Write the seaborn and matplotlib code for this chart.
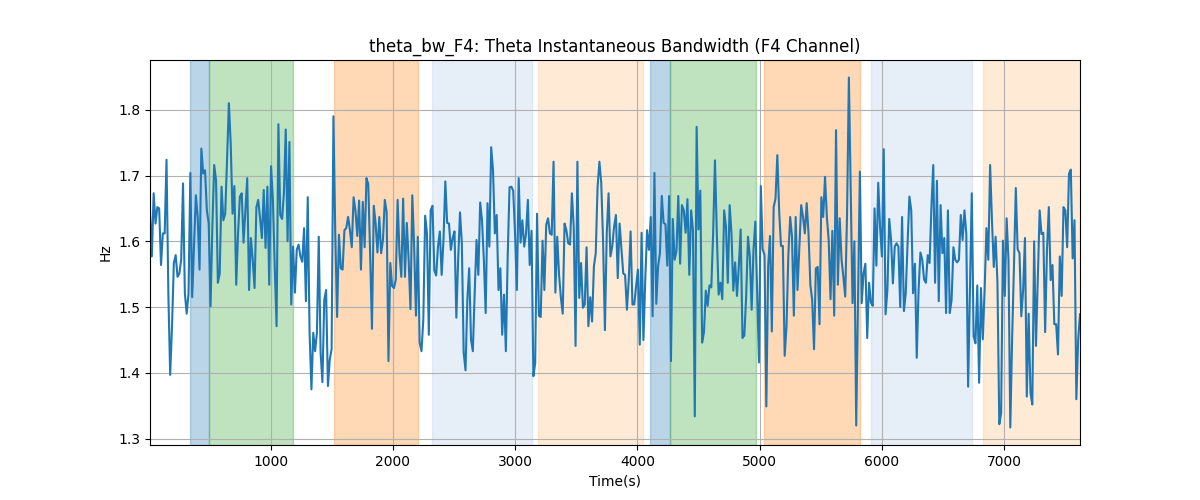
import numpy as np
import pandas as pd
import matplotlib
matplotlib.use("Agg")
import matplotlib.pyplot as plt
import seaborn as sns

t_start, t_end = 12, 7622

bandwidth_hz = [
    # 0 - ~950 s
    1.647, 1.577, 1.673, 1.627, 1.652, 1.650, 1.564, 1.612, 1.612, 1.724,
    1.521, 1.397, 1.471, 1.567, 1.579, 1.546, 1.551, 1.572, 1.688, 1.521,
    1.490, 1.521, 1.704, 1.515, 1.592, 1.670, 1.637, 1.557, 1.741, 1.703,
    1.708, 1.647, 1.627, 1.501, 1.622, 1.716, 1.693, 1.537, 1.551, 1.683,
    1.632, 1.642, 1.723, 1.810, 1.748, 1.642, 1.684, 1.534, 1.612, 1.668,
    1.673, 1.598, 1.647, 1.696, 1.526, 1.605, 1.572, 1.529, 1.652, 1.663,
    1.635, 1.605, 1.678, 1.590,
    # ~950 - ~1900 s
    1.683, 1.534, 1.714, 1.663, 1.562, 1.471, 1.778, 1.640, 1.634, 1.673,
    1.770, 1.600, 1.751, 1.504, 1.592, 1.522, 1.587, 1.595, 1.577, 1.569,
    1.620, 1.509, 1.667, 1.461, 1.375, 1.461, 1.433, 1.461, 1.607, 1.431,
    1.386, 1.511, 1.526, 1.380, 1.420, 1.436, 1.790, 1.612, 1.485, 1.610,
    1.559, 1.557, 1.617, 1.620, 1.637, 1.617, 1.591, 1.667, 1.647, 1.608,
    1.662, 1.557, 1.660, 1.591, 1.696, 1.687, 1.582, 1.467, 1.654, 1.627,
    1.583, 1.637, 1.582,
    # ~1900 - ~2850 s
    1.602, 1.663, 1.645, 1.418, 1.567, 1.532, 1.529, 1.542, 1.663, 1.582,
    1.546, 1.665, 1.546, 1.628, 1.572, 1.497, 1.670, 1.592, 1.487, 1.607,
    1.446, 1.433, 1.481, 1.639, 1.612, 1.458, 1.647, 1.654, 1.556, 1.548,
    1.592, 1.615, 1.549, 1.602, 1.691, 1.628, 1.627, 1.587, 1.605, 1.615,
    1.484, 1.572, 1.644, 1.597, 1.431, 1.404, 1.511, 1.559, 1.451, 1.433,
    1.521, 1.602, 1.549, 1.659, 1.632, 1.572, 1.491, 1.658, 1.592, 1.743,
    1.708, 1.612, 1.640, 1.526,
    # ~2850 - ~3800 s
    1.559, 1.458, 1.519, 1.433, 1.577, 1.682, 1.683, 1.677, 1.612, 1.526,
    1.696, 1.598, 1.632, 1.592, 1.612, 1.663, 1.564, 1.616, 1.395, 1.415,
    1.642, 1.487, 1.485, 1.601, 1.526, 1.625, 1.635, 1.612, 1.610, 1.721,
    1.522, 1.607, 1.549, 1.514, 1.490, 1.627, 1.617, 1.597, 1.595, 1.673,
    1.622, 1.441, 1.721, 1.514, 1.567, 1.499, 1.504, 1.591, 1.471, 1.515,
    1.478, 1.562, 1.582, 1.683, 1.721, 1.689, 1.600, 1.465, 1.612, 1.673,
    1.577, 1.592, 1.622,
    # ~3800 - ~4750 s
    1.640, 1.544, 1.627, 1.590, 1.551, 1.549, 1.496, 1.542, 1.615, 1.504,
    1.504, 1.532, 1.557, 1.443, 1.613, 1.450, 1.542, 1.617, 1.587, 1.637,
    1.486, 1.704, 1.505, 1.562, 1.582, 1.669, 1.628, 1.626, 1.563, 1.669,
    1.418, 1.634, 1.572, 1.585, 1.669, 1.566, 1.655, 1.647, 1.613, 1.664,
    1.549, 1.647, 1.617, 1.334, 1.774, 1.618, 1.677, 1.446, 1.462, 1.525,
    1.502, 1.533, 1.530, 1.612, 1.723, 1.612, 1.519, 1.537, 1.512, 1.647,
    1.622, 1.537, 1.655,
    # ~4750 - ~5700 s
    1.612, 1.525, 1.568, 1.517, 1.562, 1.618, 1.453, 1.457, 1.516, 1.607,
    1.577, 1.496, 1.587, 1.630, 1.526, 1.416, 1.684, 1.588, 1.579, 1.349,
    1.562, 1.608, 1.463, 1.652, 1.665, 1.731, 1.645, 1.593, 1.593, 1.426,
    1.471, 1.579, 1.637, 1.607, 1.487, 1.637, 1.526, 1.592, 1.655, 1.637,
    1.612, 1.658, 1.612, 1.534, 1.511, 1.436, 1.559, 1.561, 1.474, 1.667,
    1.637, 1.698, 1.637, 1.602, 1.512, 1.616, 1.487, 1.769, 1.534, 1.635,
    1.572, 1.546, 1.516,
    # ~5700 - ~6650 s
    1.640, 1.849, 1.673, 1.506, 1.600, 1.320, 1.516, 1.706, 1.506, 1.551,
    1.566, 1.453, 1.537, 1.507, 1.502, 1.650, 1.563, 1.689, 1.622, 1.577,
    1.740, 1.489, 1.526, 1.634, 1.602, 1.536, 1.592, 1.597, 1.592, 1.500,
    1.637, 1.494, 1.521, 1.597, 1.668, 1.647, 1.521, 1.566, 1.423, 1.526,
    1.583, 1.572, 1.542, 1.537, 1.579, 1.567, 1.652, 1.716, 1.537, 1.692,
    1.509, 1.655, 1.582, 1.605, 1.491, 1.647, 1.491, 1.511, 1.591, 1.572,
    1.568, 1.572, 1.640,
    # ~6650 - end
    1.602, 1.647, 1.612, 1.379, 1.524, 1.673, 1.456, 1.445, 1.533, 1.385,
    1.529, 1.451, 1.526, 1.620, 1.572, 1.716, 1.632, 1.561, 1.607, 1.537,
    1.322, 1.339, 1.601, 1.517, 1.635, 1.572, 1.317, 1.453, 1.562, 1.681,
    1.588, 1.582, 1.486, 1.526, 1.605, 1.364, 1.490, 1.370, 1.352, 1.600,
    1.441, 1.546, 1.647, 1.611, 1.613, 1.462, 1.587, 1.652, 1.541, 1.564,
    1.474, 1.474, 1.428, 1.577, 1.517, 1.652, 1.647, 1.591, 1.703, 1.709,
    1.574, 1.632, 1.360, 1.450, 1.489,
]

span_starts = [337, 493, 1516, 2318, 3186, 4103, 4267, 5036, 5912, 6829]
span_ends = [493, 1181, 2204, 3137, 4046, 4267, 4971, 5822, 6739, 7640]
span_colors = ["tab:blue", "tab:green", "tab:orange", "#aec7e8", "#ffbb78",
               "tab:blue", "tab:green", "tab:orange", "#aec7e8", "#ffbb78"]

time_s = np.linspace(t_start, t_end, len(bandwidth_hz))
df = pd.DataFrame({"Time(s)": time_s, "Hz": bandwidth_hz})

fig, ax = plt.subplots(figsize=(12, 5), dpi=100)
for s, e, c in zip(span_starts, span_ends, span_colors):
    ax.axvspan(s, e, color=c, alpha=0.3)

sns.lineplot(data=df, x="Time(s)", y="Hz", ax=ax, color="tab:blue", linewidth=1.5)
ax.set_xlim(time_s[0], time_s[-1])
ax.grid(True)
ax.set_title("theta_bw_F4: Theta Instantaneous Bandwidth (F4 Channel)")
ax.set_xlabel("Time(s)")
ax.set_ylabel("Hz")
fig.savefig("out.png", dpi=100)
